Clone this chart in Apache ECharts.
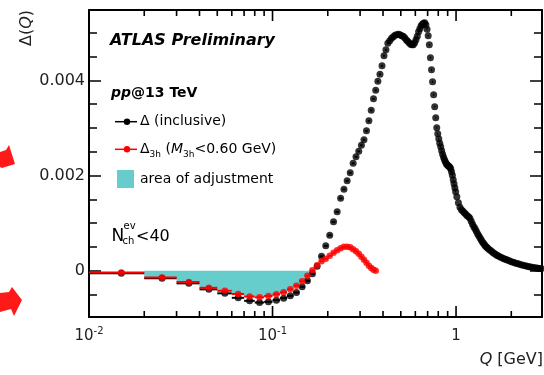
<!DOCTYPE html>
<html><head><meta charset="utf-8">
<script src="https://cdn.jsdelivr.net/npm/echarts@6/dist/echarts.min.js"></script>
<style>html,body{margin:0;padding:0;background:#fff}#c{width:544px;height:375px}</style>
</head><body><div id="c"></div>
<script>
// ---- data ----
const qInclusive = [
0.015,0.025,0.035,0.045,0.055,0.065,0.075,0.085,0.095,0.105,0.115,0.125,0.135,0.145,0.155,0.165,0.175,0.185,0.195,
0.205,0.215,0.225,0.235,0.245,0.255,0.265,0.275,0.285,0.295,0.305,0.315,0.325,0.335,0.345,0.355,0.365,0.375,0.385,0.395,
0.405,0.415,0.425,0.435,0.445,0.455,0.465,0.475,0.485,0.495,0.505,0.515,0.525,0.535,0.545,0.555,0.565,0.575,0.585,0.595,
0.605,0.615,0.625,0.635,0.645,0.655,0.665,0.675,0.685,0.695,0.705,0.715,0.725,0.735,0.745,0.755,0.765,0.775,0.785,0.795,
0.805,0.815,0.825,0.835,0.845,0.855,0.865,0.875,0.885,0.895,0.905,0.915,0.925,0.935,0.945,0.955,0.965,0.975,0.985,0.995,
1.01,1.03,1.05,1.07,1.09,1.11,1.13,1.15,1.17,1.19,1.21,1.23,1.25,1.27,1.29,1.31,1.33,1.35,1.37,1.39,1.41,1.43,1.45,1.47,1.49,
1.52,1.55,1.58,1.61,1.64,1.67,1.70,1.74,1.78,1.82,1.86,1.90,1.95,2.00,2.05,2.10,2.15,2.20,2.26,2.32,2.38,2.44,2.50,2.56,
2.62,2.68,2.74,2.80,2.86,2.92,2.98];
const deltaInclusive = [
-0.053e-3,-0.158e-3,-0.263e-3,-0.389e-3,-0.473e-3,-0.567e-3,-0.630e-3,-0.666e-3,-0.651e-3,-0.616e-3,-0.574e-3,-0.525e-3,-0.456e-3,-0.336e-3,-0.210e-3,-0.063e-3,0.095e-3,0.305e-3,0.525e-3,
0.746e-3,1.029e-3,1.239e-3,1.523e-3,1.712e-3,1.891e-3,2.059e-3,2.258e-3,2.395e-3,2.511e-3,2.637e-3,2.752e-3,2.941e-3,3.151e-3,3.372e-3,3.613e-3,3.792e-3,3.981e-3,4.128e-3,4.307e-3,
4.517e-3,4.643e-3,4.779e-3,4.832e-3,4.884e-3,4.916e-3,4.947e-3,4.958e-3,4.968e-3,4.958e-3,4.937e-3,4.926e-3,4.895e-3,4.853e-3,4.821e-3,4.790e-3,4.758e-3,4.748e-3,4.748e-3,4.790e-3,
4.853e-3,4.926e-3,5.021e-3,5.084e-3,5.147e-3,5.179e-3,5.200e-3,5.210e-3,5.168e-3,5.074e-3,4.937e-3,4.748e-3,4.475e-3,4.223e-3,3.971e-3,3.697e-3,3.445e-3,3.214e-3,3.004e-3,2.878e-3,
2.773e-3,2.679e-3,2.605e-3,2.521e-3,2.447e-3,2.384e-3,2.332e-3,2.290e-3,2.248e-3,2.227e-3,2.206e-3,2.195e-3,2.174e-3,2.143e-3,2.080e-3,2.006e-3,1.912e-3,1.828e-3,1.744e-3,1.660e-3,
1.555e-3,1.429e-3,1.334e-3,1.282e-3,1.250e-3,1.218e-3,1.187e-3,1.155e-3,1.134e-3,1.103e-3,1.040e-3,0.977e-3,0.924e-3,0.882e-3,0.830e-3,0.777e-3,0.735e-3,0.693e-3,0.651e-3,0.609e-3,0.578e-3,0.546e-3,0.515e-3,0.494e-3,0.473e-3,
0.441e-3,0.420e-3,0.389e-3,0.368e-3,0.347e-3,0.326e-3,0.309e-3,0.288e-3,0.273e-3,0.256e-3,0.242e-3,0.227e-3,0.210e-3,0.193e-3,0.179e-3,0.164e-3,0.153e-3,0.141e-3,0.126e-3,0.116e-3,0.105e-3,0.095e-3,0.084e-3,0.078e-3,
0.069e-3,0.063e-3,0.057e-3,0.053e-3,0.048e-3,0.046e-3,0.042e-3];
const q3h = [
0.015,0.025,0.035,0.045,0.055,0.065,0.075,0.085,0.095,0.105,0.115,0.125,0.135,0.145,0.155,0.165,0.175,0.185,0.195,
0.205,0.215,0.225,0.235,0.245,0.255,0.265,0.275,0.285,0.295,0.305,0.315,0.325,0.335,0.345,0.355,0.365];
const delta3h = [
-0.036e-3,-0.141e-3,-0.235e-3,-0.357e-3,-0.420e-3,-0.487e-3,-0.540e-3,-0.557e-3,-0.529e-3,-0.494e-3,-0.452e-3,-0.389e-3,-0.315e-3,-0.221e-3,-0.105e-3,0.011e-3,0.116e-3,0.200e-3,0.252e-3,
0.315e-3,0.378e-3,0.431e-3,0.473e-3,0.504e-3,0.508e-3,0.494e-3,0.452e-3,0.410e-3,0.357e-3,0.294e-3,0.231e-3,0.168e-3,0.105e-3,0.057e-3,0.025e-3,0.004e-3];
const binWidth = 0.01;          // GeV, horizontal error bar = bin width
const adjustRange = [0.02, 0.16]; // Q range of the "area of adjustment"
const xMajorTicks = [0.01, 0.1, 1];
const xTickLabels = [['10','-2'], ['10','-1'], ['1','']];
const xMinorTicks = [0.02,0.03,0.04,0.05,0.06,0.07,0.08,0.09,0.2,0.3,0.4,0.5,0.6,0.7,0.8,0.9,2];
const yMajorTicks = [0, 0.002, 0.004];
const yTickLabels = ['0', '0.002', '0.004'];
const yMinorTicks = [-0.0005,0.0005,0.001,0.0015,0.0025,0.003,0.0035,0.0045,0.005];
const xRange = [0.01, 2.94];
const yRange = [-0.00097, 0.00548];

// ---- build ----
const FONT = '"DejaVu Sans", "Liberation Sans", sans-serif';
const blackPts = qInclusive.map((q, i) => [q, deltaInclusive[i]]);
const redPts = q3h.map((q, i) => [q, delta3h[i]]);
const blackBars = qInclusive.map((q, i) => [q - binWidth / 2, q + binWidth / 2, deltaInclusive[i]]).filter(d => d[1] <= 1.0001);
const redBars = q3h.map((q, i) => [q - binWidth / 2, q + binWidth / 2, delta3h[i]]);
const areaPts = [];
q3h.forEach((q, i) => {
  const lo = q - binWidth / 2, hi = q + binWidth / 2;
  if (lo >= adjustRange[0] - 1e-9 && hi <= adjustRange[1] + 1e-9) {
    const v = Math.min(delta3h[i], 0);
    areaPts.push([lo, v], [hi, v]);
  }
});
// x-axis ticks for bottom and top frame: [Q, y-anchor, kind(1=major,0=minor)]
const xTickData = xMajorTicks.filter(v => v > xRange[0] && v < xRange[1]).map(v => [v, 0, 1])
  .concat(xMinorTicks.map(v => [v, 0, 0]));

function barSeries(data, color) {
  return {
    type: 'custom', data: data, encode: { x: [0, 1], y: 2 }, silent: true, clip: true,
    renderItem: function (params, api) {
      const a = api.coord([api.value(0), api.value(2)]);
      const b = api.coord([api.value(1), api.value(2)]);
      return { type: 'line', shape: { x1: a[0], y1: a[1], x2: b[0], y2: b[1] }, style: { stroke: color, lineWidth: 2 } };
    }
  };
}
const xTickSeries = {
  type: 'custom', data: xTickData, encode: { x: 0, y: 1 }, clip: false, z: 20,
  renderItem: function (params, api) {
    const v = api.value(0), len = api.value(2) ? 11 : 6;
    const b = api.coord([v, yRange[0]]);
    const t = api.coord([v, yRange[1]]);
    return { type: 'group', children: [
      { type: 'rect', shape: { x: b[0] - 0.8, y: b[1] - len, width: 1.6, height: len }, style: { fill: '#000' } },
      { type: 'rect', shape: { x: t[0] - 0.8, y: t[1], width: 1.6, height: len }, style: { fill: '#000' } }
    ] };
  }
};
function near(list, v) { for (let i = 0; i < list.length; i++) if (Math.abs(list[i] - v) < 1e-9 * Math.max(1, Math.abs(v)) + 1e-12) return i; return -1; }

function xLogAxis(pos, labels) {
  return {
    type: 'log', logBase: 10, min: xRange[0], max: xRange[1], position: pos,
    axisLine: { show: true, onZero: false, lineStyle: { color: '#000', width: 2 } },
    axisTick: { show: false },
    axisLabel: labels ? {
      show: true, margin: 9, color: '#222', showMaxLabel: false,
      formatter: function (v) { const i = near(xMajorTicks, v); if (i < 0) return ''; const t = xTickLabels[i]; return t[1] ? '{b|' + t[0] + '}{s|' + t[1] + '}' : '{b|' + t[0] + '}'; },
      rich: { b: { fontSize: 15, fontFamily: FONT, color: '#222', lineHeight: 20 }, s: { fontSize: 10, fontFamily: FONT, color: '#222', lineHeight: 12, verticalAlign: 'top' } }
    } : { show: false },
    splitLine: { show: false }, minorTick: { show: false }
  };
}
function yAxisDef(pos, ticks, len, labels) {
  return {
    type: 'value', min: yRange[0], max: yRange[1], position: pos,
    axisLine: { show: ticks === yMajorTicks, onZero: false, lineStyle: { color: '#000', width: 2 } },
    axisTick: { show: true, inside: true, length: len, customValues: ticks, lineStyle: { color: '#000', width: 1.5 } },
    axisLabel: labels ? {
      show: true, customValues: yMajorTicks, margin: 4, color: '#222', fontSize: 16, fontFamily: FONT,
      formatter: function (v) { const i = near(yMajorTicks, v); return i < 0 ? '' : yTickLabels[i]; }
    } : { show: false },
    splitLine: { show: false }
  };
}

const chart = echarts.init(document.getElementById('c'), null, { renderer: 'canvas' });
const legendFont = '14px ' + FONT;
chart.setOption({
  animation: false,
  backgroundColor: '#fff',
  grid: { left: 89, right: 2, top: 10, bottom: 58, containLabel: false },
  xAxis: [xLogAxis('bottom', true), xLogAxis('top', false)],
  yAxis: [yAxisDef('left', yMajorTicks, 12, true), yAxisDef('left', yMinorTicks, 8, false),
          yAxisDef('right', yMajorTicks, 12, false), yAxisDef('right', yMinorTicks, 8, false)],
  series: [
    { type: 'line', data: areaPts, symbol: 'none', lineStyle: { width: 0 }, areaStyle: { color: '#66CCCC', opacity: 1, origin: 'auto' }, silent: true, z: 1 },
    Object.assign(barSeries(blackBars, '#000'), { z: 2 }),
    { type: 'scatter', data: blackPts, symbol: 'circle', symbolSize: 7, itemStyle: { color: '#000' }, z: 3, clip: true },
    Object.assign(barSeries(redBars, '#ff0000'), { z: 4 }),
    { type: 'scatter', data: redPts, symbol: 'circle', symbolSize: 6.5, itemStyle: { color: '#ff0000' }, z: 5, clip: true },
    xTickSeries
  ],
  graphic: [
    { type: 'text', x: 110, y: 41, style: { text: 'ATLAS Preliminary', font: 'italic bold 16px ' + FONT, fill: '#000', align: 'left', verticalAlign: 'middle' } },
    { type: 'text', x: 111, y: 93, style: { text: '{i|pp}{b|@13 TeV}', fill: '#000', align: 'left', verticalAlign: 'middle', font: 'bold 14px ' + FONT,
        rich: { i: { font: 'italic bold 14px ' + FONT, fill: '#000' }, b: { font: 'bold 14px ' + FONT, fill: '#000' } } } },
    { type: 'line', shape: { x1: 115, y1: 121.7, x2: 137, y2: 121.7 }, style: { stroke: '#000', lineWidth: 1.5 } },
    { type: 'circle', shape: { cx: 127, cy: 121.7, r: 3.2 }, style: { fill: '#000' } },
    { type: 'text', x: 140, y: 121.7, style: { text: 'Δ (inclusive)', font: legendFont, fill: '#000', align: 'left', verticalAlign: 'middle' } },
    { type: 'line', shape: { x1: 115, y1: 149.3, x2: 137, y2: 149.3 }, style: { stroke: '#ff0000', lineWidth: 1.5 } },
    { type: 'circle', shape: { cx: 127, cy: 149.3, r: 3.2 }, style: { fill: '#ff0000' } },
    { type: 'text', x: 140, y: 149.3, style: { text: '{n|Δ}{s|3h}{n| (}{i|M}{s|3h}{n|<0.60 GeV)}', fill: '#000', align: 'left', verticalAlign: 'middle', font: legendFont,
        rich: { n: { font: legendFont, fill: '#000', lineHeight: 20 }, i: { font: 'italic 14px ' + FONT, fill: '#000', lineHeight: 20 },
                s: { font: '9px ' + FONT, fill: '#000', lineHeight: 11, verticalAlign: 'bottom' } } } },
    { type: 'rect', shape: { x: 117, y: 170, width: 17, height: 18 }, style: { fill: '#66CCCC' } },
    { type: 'text', x: 140, y: 179, style: { text: 'area of adjustment', font: legendFont, fill: '#000', align: 'left', verticalAlign: 'middle' } },
    { type: 'text', x: 111.5, y: 237, style: { text: 'N', font: '17px ' + FONT, fill: '#000', align: 'left', verticalAlign: 'middle' } },
    { type: 'text', x: 123.5, y: 226.5, style: { text: 'ev', font: '10px ' + FONT, fill: '#000', align: 'left', verticalAlign: 'middle' } },
    { type: 'text', x: 122.5, y: 241.5, style: { text: 'ch', font: '10px ' + FONT, fill: '#000', align: 'left', verticalAlign: 'middle' } },
    { type: 'text', x: 136, y: 237, style: { text: '<40', font: '16px ' + FONT, fill: '#000', align: 'left', verticalAlign: 'middle' } },
    { type: 'text', x: 543, y: 360, style: { text: '{i|Q}{n| [GeV]}', fill: '#222', align: 'right', verticalAlign: 'middle', font: '16px ' + FONT,
        rich: { i: { font: 'italic 16px ' + FONT, fill: '#222' }, n: { font: '16px ' + FONT, fill: '#222' } } } },
    { type: 'text', x: 26.5, y: 28, rotation: Math.PI / 2, style: { text: '{n|Δ(}{i|Q}{n|)}', fill: '#222', align: 'center', verticalAlign: 'middle', font: '16px ' + FONT,
        rich: { i: { font: 'italic 16px ' + FONT, fill: '#222' }, n: { font: '16px ' + FONT, fill: '#222' } } } },
    { type: 'polygon', shape: { points: [[0, 152], [6, 150], [9, 145], [15, 164], [2, 168], [0, 167]] }, style: { fill: '#ff1a1a' } },
    { type: 'polygon', shape: { points: [[0, 293], [9, 292], [12, 287], [22, 300], [14, 316], [11, 309], [0, 312]] }, style: { fill: '#ff1a1a' } }
  ]
});
</script></body></html>
